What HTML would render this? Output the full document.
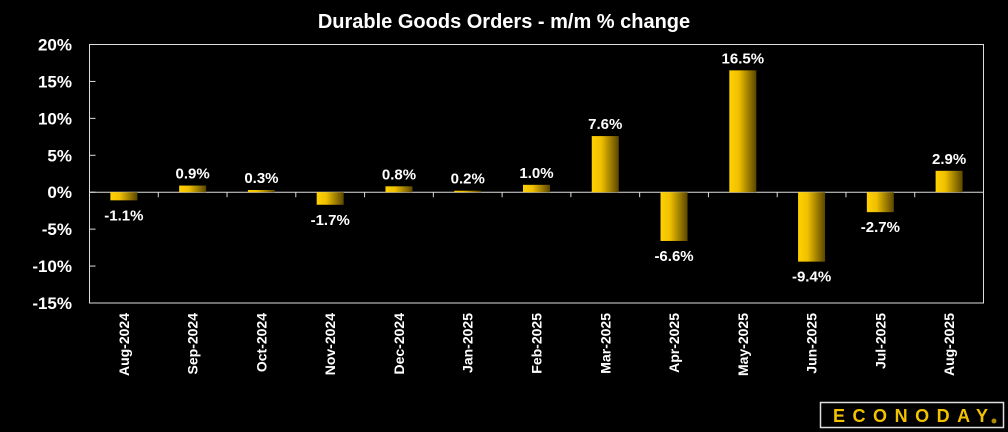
<!DOCTYPE html>
<html><head><meta charset="utf-8"><style>
html,body{margin:0;padding:0;background:#000;width:1008px;height:432px;overflow:hidden}
svg{display:block}
text{font-family:"Liberation Sans",sans-serif;fill:#fff;font-weight:bold}
</style></head><body>
<svg id="c" width="1008" height="432">
<defs><linearGradient id="g" x1="0" x2="1" y1="0" y2="0"><stop offset="0" stop-color="#ffd200"/><stop offset="0.35" stop-color="#f0c000"/><stop offset="1" stop-color="#5a4600"/></linearGradient></defs>
<text x="504" y="28" text-anchor="middle" font-size="20">Durable Goods Orders - m/m % change</text>
<rect x="89.5" y="44.5" width="894" height="258.5" fill="none" stroke="#ddd" stroke-width="1"/>
<g id="marks"></g>
<rect x="820.5" y="402.5" width="183" height="25" fill="none" stroke="#ddd" stroke-width="1.5"/>
<text x="833" y="422" font-size="18" textLength="155" lengthAdjust="spacing" style="fill:#f2c200;font-weight:bold">ECONODAY</text>
<circle cx="994" cy="421" r="2.5" fill="#b08a00"/>
</svg>
<script>
const categories=["Aug-2024","Sep-2024","Oct-2024","Nov-2024","Dec-2024","Jan-2025","Feb-2025","Mar-2025","Apr-2025","May-2025","Jun-2025","Jul-2025","Aug-2025"];
const values=[-1.1,0.9,0.3,-1.7,0.8,0.2,1.0,7.6,-6.6,16.5,-9.4,-2.7,2.9];
const yTicks=[20,15,10,5,0,-5,-10,-15];
const NS="http://www.w3.org/2000/svg";
const L=89.5,R=983.5,T=44.5,B=303;
const yMin=-15,yMax=20;
function y(v){return T+(yMax-v)/(yMax-yMin)*(B-T);}
const bw=(R-L)/categories.length;
function xc(i){return L+bw*(i+0.5);}
const g=document.getElementById('marks');
function mk(tag,attrs,txt){const e=document.createElementNS(NS,tag);for(const k in attrs)e.setAttribute(k,attrs[k]);if(txt!==undefined)e.textContent=txt;g.appendChild(e);return e;}
yTicks.forEach(t=>{
 const l=mk('line',{x1:L,x2:L+6,y1:y(t),y2:y(t),stroke:'#ddd'});
 
 
 const tx=mk('text',{x:72,y:y(t)+6,'text-anchor':'end','font-size':17},t+'%');
 
 
});
const z=mk('line',{x1:L,x2:R,y1:y(0),y2:y(0),stroke:'#ddd'});


for(let i=1;i<categories.length;i++){
 const l=mk('line',{x1:L+bw*i,x2:L+bw*i,y1:y(0),y2:y(0)+5,stroke:'#ddd'});
 
 
}
categories.forEach((c,i)=>{
 const v=values[i],x=xc(i);
 const y0=Math.min(y(0),y(v)),h=Math.abs(y(v)-y(0));
 const r=mk('rect',{x:x-13.5,y:y0,width:27,height:Math.max(h,1),fill:'url(#g)'});
 
 
 const ly=v>=0?y(v)-7:y(v)+20;
 const t=mk('text',{x:x,y:ly,'text-anchor':'middle','font-size':15},v.toFixed(1)+'%');
 
 
 const xl=mk('text',{x:0,y:0,'text-anchor':'end','font-size':14,transform:`translate(${x+5},313) rotate(-90)`},c);
 
 
});
</script>
</body></html>
